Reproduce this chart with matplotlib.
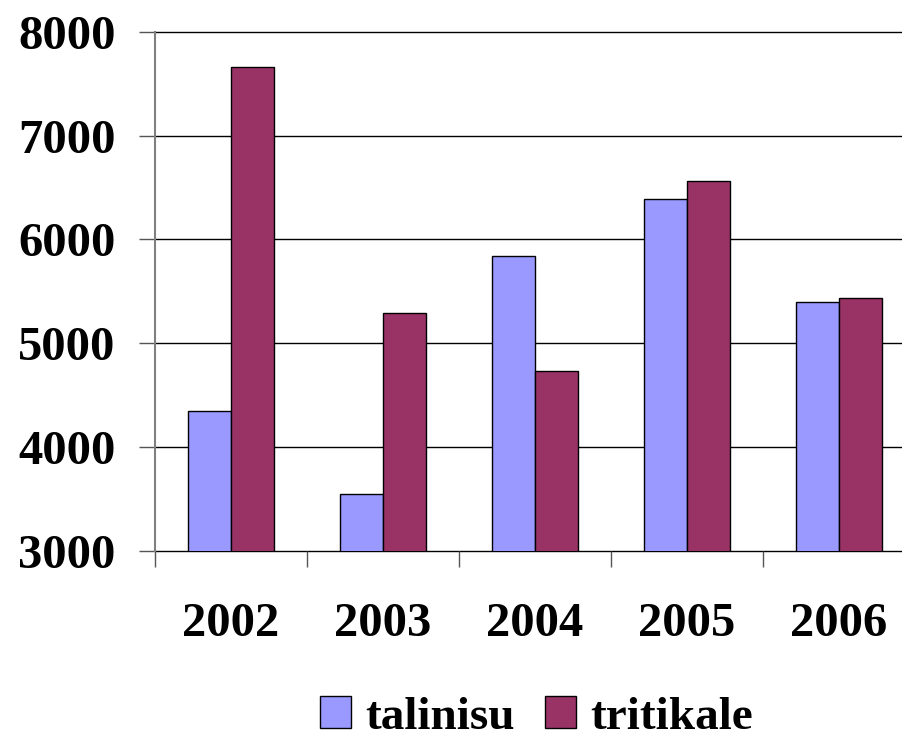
import matplotlib
matplotlib.use("Agg")
import matplotlib.pyplot as plt
import numpy as np

years = ["2002", "2003", "2004", "2005", "2006"]
talinisu = [4347, 3547, 5845, 6390, 5398]
tritikale = [7667, 5292, 4733, 6564, 5434]
yticks = [3000, 4000, 5000, 6000, 7000, 8000]

plt.rcParams["font.family"] = ["Liberation Serif", "DejaVu Serif"]
plt.rcParams["font.weight"] = "bold"

fig = plt.figure(figsize=(9.02, 7.42), dpi=100)
# the plot area runs a little past the right edge of the picture
ax = fig.add_axes([155 / 902, 1 - 550.7 / 742, 760 / 902, 518.7 / 742])

x = np.arange(len(years))
w = 0.286
ax.bar(x - w / 2, talinisu, w, color="#9999FF", edgecolor="black",
       linewidth=1.0, label="talinisu", zorder=3)
ax.bar(x + w / 2, tritikale, w, color="#993366", edgecolor="black",
       linewidth=1.0, label="tritikale", zorder=3)

ax.set_xlim(-0.5, 4.5)
ax.set_ylim(3000, 8000)
ax.set_yticks(yticks)
ax.set_yticklabels([str(v) for v in yticks], fontsize=35, fontweight="bold")
for v in yticks:
    ax.axhline(v, color="black", lw=1.0, zorder=1, clip_on=False)

# category boundary ticks on the x axis, labels centred
ax.set_xticks(np.arange(-0.5, 5.0, 1.0))
ax.set_xticklabels([])
ax.set_xticks(x, minor=True)
ax.set_xticklabels(years, minor=True, fontsize=35, fontweight="bold")
ax.tick_params(axis="x", which="major", length=11.5, width=1, color="#555555",
               direction="out")
ax.tick_params(axis="x", which="minor", length=0, pad=37)
ax.tick_params(axis="y", length=11.5, width=1, color="#555555", pad=17)

for s in ["top", "right"]:
    ax.spines[s].set_visible(False)
ax.spines["bottom"].set_visible(False)
ax.spines["left"].set_color("#808080")
ax.spines["left"].set_linewidth(1.5)
ax.spines["left"].set_bounds(3000, 8000)

fig.legend(loc="lower center", bbox_to_anchor=(0.595, -0.053), ncol=2,
           frameon=False, handlelength=0.65, handleheight=0.65,
           handletextpad=0.3, columnspacing=0.65,
           prop={"weight": "bold", "size": 34})

fig.savefig("out.png", dpi=100, facecolor="white")
